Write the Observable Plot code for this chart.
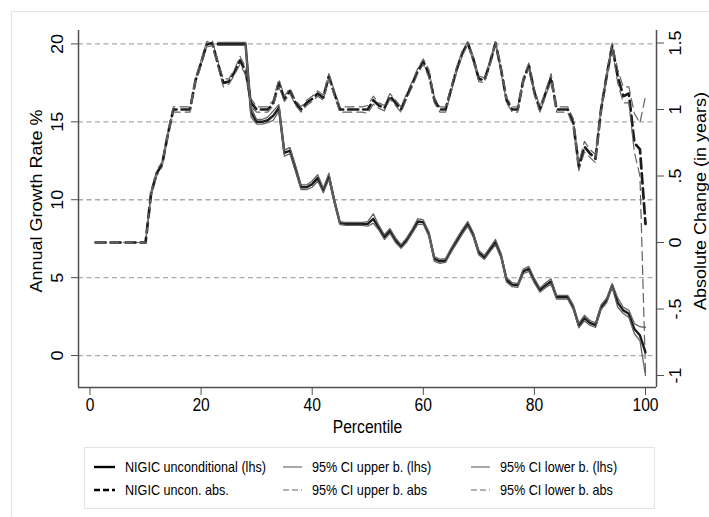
<!DOCTYPE html>
<html>
<head>
<meta charset="utf-8">
<script src="https://cdn.jsdelivr.net/npm/d3@7"></script>
<script src="https://cdn.jsdelivr.net/npm/@observablehq/plot@0.6"></script>
<style>
  html, body { margin: 0; padding: 0; background: #fff; }
  #wrap { position: relative; width: 709px; height: 517px; overflow: hidden; background: #fff;
          font-family: "Liberation Sans", Arial, Helvetica, sans-serif; color: #000; }
  #region { position: absolute; left: 11px; top: 11px; width: 760px; height: 560px;
            border: 1px solid #dfe7ea; box-sizing: border-box; }
  #chart { position: absolute; left: 0; top: 0; }
  #legend { position: absolute; left: 84px; top: 447px; width: 571px; height: 62px;
            border: 1px solid #dfe7ea; box-sizing: border-box; background: #fff; }
  .item { position: absolute; height: 20px; display: flex; align-items: center; white-space: nowrap; }
  .item svg { display: block; }
  .item span { display: inline-block; font-size: 14.5px; transform: scaleX(0.87); transform-origin: left center; }
</style>
</head>
<body>
<div id="wrap">
  <div id="region"></div>
  <div id="chart"></div>
  <div id="legend"></div>
</div>
<script>
// Percentile index (1..100)
const percentiles = d3.range(1, 101);

// Annual growth rate (%), left axis; defined from percentile 23 on
const lhsFrom = 23;
const lhsMain = [20, 20, 20, 20, 20, 20, 15.6, 15.0, 15.0, 15.1, 15.4, 15.9, 13.0, 13.15, 12.0, 10.8, 10.8, 11.0, 11.4, 10.6,
  11.5, 9.9, 8.5, 8.45, 8.45, 8.45, 8.45, 8.45, 8.77, 8.2, 7.6, 8.0, 7.4, 7.0, 7.41, 7.98, 8.6, 8.56, 7.8, 6.2,
  6.05, 6.1, 6.76, 7.35, 7.93, 8.45, 7.75, 6.6, 6.3, 6.8, 7.27, 6.4, 4.85, 4.55, 4.5, 5.4, 5.56, 4.8, 4.2, 4.5,
  4.75, 3.74, 3.74, 3.74, 3.1, 1.93, 2.4, 2.1, 1.95, 3.1, 3.53, 4.5, 3.4, 2.9, 2.68, 1.7, 1.3, 0.21];
const lhsUpper = [20.1, 20.1, 20.1, 20.1, 20.1, 20.1, 15.9, 15.15, 15.15, 15.3, 15.7, 16.1, 13.2, 13.35, 12.2, 10.95, 10.95, 11.2, 11.6, 10.75,
  11.7, 10.05, 8.6, 8.55, 8.55, 8.55, 8.55, 8.6, 9.1, 8.35, 7.75, 8.15, 7.55, 7.12, 7.55, 8.12, 8.78, 8.7, 7.95, 6.35,
  6.18, 6.22, 6.9, 7.5, 8.08, 8.6, 7.9, 6.75, 6.43, 6.95, 7.45, 6.55, 5.0, 4.68, 4.62, 5.55, 5.72, 4.95, 4.33, 4.65,
  4.92, 3.86, 3.86, 3.86, 3.25, 2.08, 2.58, 2.25, 2.1, 3.25, 3.68, 4.62, 3.7, 3.1, 2.9, 2.05, 1.85, 1.8];
const lhsLower = [19.9, 19.9, 19.9, 19.9, 19.9, 19.9, 15.3, 14.85, 14.85, 14.95, 15.1, 15.7, 12.8, 12.95, 11.8, 10.65, 10.65, 10.8, 11.2, 10.45,
  11.3, 9.75, 8.4, 8.35, 8.35, 8.35, 8.35, 8.3, 8.5, 8.05, 7.45, 7.85, 7.25, 6.88, 7.27, 7.84, 8.42, 8.42, 7.65, 6.05,
  5.92, 5.98, 6.62, 7.2, 7.78, 8.3, 7.6, 6.45, 6.17, 6.65, 7.1, 6.25, 4.7, 4.42, 4.38, 5.25, 5.4, 4.65, 4.07, 4.35,
  4.58, 3.62, 3.62, 3.62, 2.95, 1.78, 2.22, 1.95, 1.8, 2.95, 3.38, 4.38, 3.1, 2.7, 2.45, 1.4, 0.96, -1.28];

// Absolute change in years of schooling, right axis; percentiles 1..100
const absMain = [0, 0, 0, 0, 0, 0, 0, 0, 0, 0,
  0.37, 0.52, 0.59, 0.81, 1.0, 1.0, 1.0, 1.0, 1.22, 1.35,
  1.49, 1.5, 1.35, 1.2, 1.21, 1.28, 1.37, 1.29, 1.05, 1.0,
  1.0, 1.0, 1.05, 1.2, 1.08, 1.14, 1.05, 1.0, 1.05, 1.08,
  1.12, 1.09, 1.25, 1.12, 1.0, 1.0, 1.0, 1.0, 1.0, 1.0,
  1.07, 1.03, 1.01, 1.1, 1.05, 1.0, 1.1, 1.19, 1.29, 1.36,
  1.27, 1.07, 1.0, 1.0, 1.15, 1.3, 1.42, 1.5, 1.38, 1.23,
  1.22, 1.35, 1.5, 1.3, 1.07, 1.0, 1.0, 1.22, 1.33, 1.13,
  1.0, 1.12, 1.24, 1.0, 1.0, 1.0, 0.9, 0.57, 0.72, 0.67,
  0.63, 1.0, 1.25, 1.48, 1.25, 1.1, 1.12, 0.75, 0.7, 0.14];
const absUpper = [0, 0, 0, 0, 0, 0, 0, 0, 0, 0,
  0.39, 0.54, 0.61, 0.83, 1.02, 1.02, 1.02, 1.02, 1.24, 1.37,
  1.51, 1.52, 1.37, 1.23, 1.23, 1.3, 1.4, 1.32, 1.08, 1.02,
  1.02, 1.02, 1.07, 1.23, 1.1, 1.16, 1.07, 1.02, 1.07, 1.1,
  1.14, 1.11, 1.27, 1.14, 1.02, 1.02, 1.02, 1.02, 1.02, 1.03,
  1.1, 1.05, 1.03, 1.12, 1.07, 1.02, 1.12, 1.21, 1.31, 1.38,
  1.3, 1.09, 1.02, 1.02, 1.17, 1.32, 1.44, 1.51, 1.4, 1.25,
  1.24, 1.37, 1.51, 1.32, 1.09, 1.02, 1.02, 1.24, 1.35, 1.15,
  1.02, 1.14, 1.27, 1.02, 1.02, 1.02, 0.93, 0.6, 0.76, 0.7,
  0.66, 1.02, 1.27, 1.5, 1.3, 1.17, 1.17, 0.97, 0.9, 1.1];
const absLower = [0, 0, 0, 0, 0, 0, 0, 0, 0, 0,
  0.35, 0.5, 0.57, 0.79, 0.98, 0.98, 0.98, 0.98, 1.2, 1.33,
  1.47, 1.48, 1.33, 1.17, 1.19, 1.26, 1.34, 1.26, 1.02, 0.98,
  0.98, 0.98, 1.03, 1.17, 1.06, 1.12, 1.03, 0.98, 1.03, 1.06,
  1.1, 1.07, 1.23, 1.1, 0.98, 0.98, 0.98, 0.98, 0.98, 0.97,
  1.04, 1.01, 0.99, 1.08, 1.03, 0.98, 1.08, 1.17, 1.27, 1.34,
  1.24, 1.05, 0.98, 0.98, 1.13, 1.28, 1.4, 1.49, 1.36, 1.21,
  1.2, 1.33, 1.49, 1.28, 1.05, 0.98, 0.98, 1.2, 1.31, 1.11,
  0.98, 1.1, 1.21, 0.98, 0.98, 0.98, 0.87, 0.54, 0.68, 0.64,
  0.6, 0.98, 1.23, 1.46, 1.2, 1.05, 1.05, 0.68, 0.5, -0.98];

// Axis ticks
const xTicks = [0, 20, 40, 60, 80, 100];
const leftTicks = [0, 5, 10, 15, 20];
const rightTicks = [-1, -0.5, 0, 0.5, 1, 1.5];

// Line colours
const mainColor = "#1c1c1c";
const ciColor = "#626262";

// Legend entries
const legendItems = [
  {label: "NIGIC unconditional (lhs)", stroke: "#000", width: 2.4, dash: null},
  {label: "95% CI upper b. (lhs)", stroke: ciColor, width: 1.1, dash: null},
  {label: "95% CI lower b. (lhs)", stroke: ciColor, width: 1.1, dash: null},
  {label: "NIGIC uncon. abs.", stroke: "#000", width: 2.6, dash: "6,3"},
  {label: "95% CI upper b. abs", stroke: ciColor, width: 1.1, dash: "6,3"},
  {label: "95% CI lower b. abs", stroke: ciColor, width: 1.1, dash: "6,3"}
];

// Scale domains: the right-hand (years) axis is laid over the left-hand (%) axis
const xDomain = [-2.07, 101.98];
const yDomain = [-2.05, 20.86];
const rDomain = [-1.09, 1.594];
const toLeft = d3.scaleLinear(rDomain, yDomain);

const lhsRows = lhsMain.map((v, i) => ({p: lhsFrom + i, v, hi: lhsUpper[i], lo: lhsLower[i]}));
const absRows = absMain.map((v, i) => ({p: percentiles[i], v: toLeft(v), hi: toLeft(absUpper[i]), lo: toLeft(absLower[i])}));

// Stata-style number labels: ".5", "-.5"
const fmtR = d => String(d).replace(/^(-?)0\./, "$1.");

const axisColor = "#4f4f4f";
const fs = 18;

const chart = Plot.plot({
  width: 709,
  height: 445,
  marginLeft: 78,
  marginRight: 53,
  marginTop: 30,
  marginBottom: 58,
  style: {fontFamily: '"Liberation Sans", Arial, Helvetica, sans-serif', fontSize: fs + "px", color: "#000", background: "transparent", overflow: "visible"},
  x: {domain: xDomain},
  y: {domain: yDomain},
  marks: [
    Plot.ruleY(leftTicks, {stroke: "#a9a9a9", strokeWidth: 1.3, strokeDasharray: "5,3.5"}),
    Plot.line(absRows, {x: "p", y: "v", stroke: mainColor, strokeWidth: 2.7, strokeDasharray: "10,5"}),
    Plot.line(absRows, {x: "p", y: "hi", stroke: ciColor, strokeWidth: 1.2, strokeDasharray: "9,5"}),
    Plot.line(absRows, {x: "p", y: "lo", stroke: ciColor, strokeWidth: 1.2, strokeDasharray: "9,5"}),
    Plot.line(lhsRows, {x: "p", y: "v", stroke: mainColor, strokeWidth: 2.4}),
    Plot.line(lhsRows, {x: "p", y: "hi", stroke: ciColor, strokeWidth: 1.3}),
    Plot.line(lhsRows, {x: "p", y: "lo", stroke: ciColor, strokeWidth: 1.3}),
    Plot.ruleY([yDomain[0]], {stroke: axisColor, strokeWidth: 1.5}),
    Plot.ruleX(xDomain, {stroke: axisColor, strokeWidth: 1.5}),
    Plot.axisX(xTicks, {tickSize: 8, tickPadding: 3, stroke: axisColor, fontSize: fs, label: null}),
    Plot.axisY(leftTicks, {anchor: "left", tickSize: 7, stroke: axisColor, tickFormat: () => "", label: null}),
    Plot.text(leftTicks, {y: d => d, text: d => String(d), frameAnchor: "left", dx: -21, rotate: -90,
      textAnchor: "middle", lineAnchor: "middle", fontSize: fs}),
    Plot.axisY(rightTicks.map(d => toLeft(d)), {anchor: "right", tickSize: 7, stroke: axisColor, tickFormat: () => "", label: null}),
    Plot.text(rightTicks, {y: d => toLeft(d), text: fmtR, frameAnchor: "right", dx: 19, rotate: -90,
      textAnchor: "middle", lineAnchor: "middle", fontSize: fs}),
    Plot.text(["Percentile"], {text: d => d, frameAnchor: "bottom", dy: 45, fontSize: fs}),
    Plot.text(["Annual Growth Rate %"], {text: d => d, frameAnchor: "left", dx: -42, dy: -8, rotate: -90,
      textAnchor: "middle", lineAnchor: "middle", fontSize: fs}),
    Plot.text(["Absolute Change (in years)"], {text: d => d, frameAnchor: "right", dx: 44, dy: -8, rotate: -90,
      textAnchor: "middle", lineAnchor: "middle", fontSize: fs})
  ]
});

// Narrow the lettering horizontally, keeping each label's anchor point
chart.querySelectorAll("text").forEach(t => {
  const tr = t.getAttribute("transform");
  const m = tr && tr.match(/^\s*translate\([^)]*\)/);
  if (m) {
    t.setAttribute("transform", m[0] + " scale(0.87,1)" + tr.slice(m[0].length));
  } else {
    const x = +t.getAttribute("x") || 0, y = +t.getAttribute("y") || 0;
    t.setAttribute("x", 0); t.setAttribute("y", 0);
    t.setAttribute("transform", `translate(${x},${y}) scale(0.87,1)` + (tr ? " " + tr : ""));
  }
});

document.getElementById("chart").appendChild(chart);

// Legend: two rows of three entries inside a light box
const legend = document.getElementById("legend");
const cols = [{sx: 8, tx: 40}, {sx: 197, tx: 227}, {sx: 385, tx: 415}];
legendItems.forEach((d, i) => {
  const c = cols[i % 3], row = Math.floor(i / 3);
  const item = document.createElement("div");
  item.className = "item";
  item.style.left = c.sx + "px";
  item.style.top = (9 + row * 23) + "px";
  item.innerHTML = `<svg width="${c.tx - c.sx}" height="8"><line x1="1" x2="${c.tx - c.sx - 10}" y1="4" y2="4" stroke="${d.stroke}" stroke-width="${d.width}" ${d.dash ? `stroke-dasharray="${d.dash}"` : ""}/></svg><span>${d.label}</span>`;
  legend.appendChild(item);
});
</script>
</body>
</html>
